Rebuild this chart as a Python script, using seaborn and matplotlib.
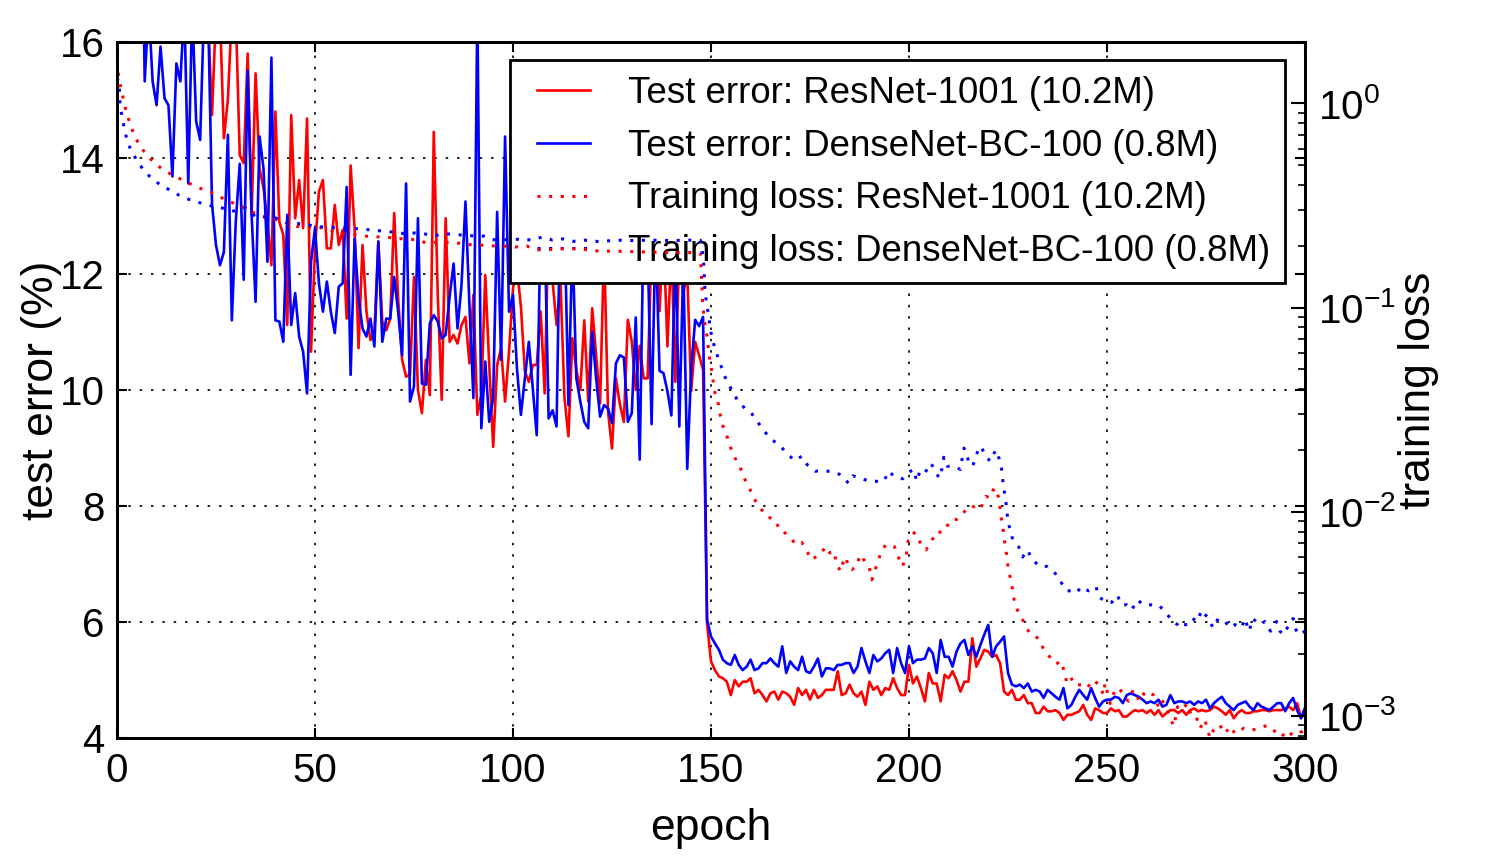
import numpy as np
import matplotlib
matplotlib.use('Agg')
import matplotlib.pyplot as plt
from matplotlib.patches import Rectangle
import seaborn as sns

# -----------------------------
# Test error (%) per epoch, epochs 1..300 (values > 16 run off the top)
# -----------------------------
resnet_err = [
    30, 27, 25, 24, 23, 22, 21, 20, 20, 19,
    19, 18.5, 18.5, 18, 18, 17.5, 17.5, 17.5, 17, 17,
    17, 20, 16.4, 14.74, 16.5, 16.5, 14.34, 15.0, 16.5, 16.5,
    14.05, 13.91, 15.8, 13.02, 15.46, 13.82, 13.48, 12.9, 12.15, 14.8,
    12.9, 12.67, 11.12, 14.74, 12.96, 13.62, 12.79, 14.68, 10.66, 12.44,
    13.42, 13.62, 12.44, 12.44, 13.19, 12.5, 12.76, 11.23, 13.87, 12.79,
    10.72, 12.5, 11.35, 10.86, 11.0, 12.56, 11.18, 11.03, 11.23, 13.05,
    11.58, 10.52, 10.23, 10.26, 11.95, 10.0, 9.6, 10.52, 9.91, 14.45,
    11.64, 9.83, 12.96, 10.83, 10.95, 10.8, 11.12, 11.26, 10.46, 11.64,
    9.57, 9.91, 11.98, 10.43, 9.02, 10.43, 10.72, 9.8, 10.66, 11.75,
    12.1, 11.44, 10.32, 10.14, 10.43, 10.43, 11.35, 9.94, 13.0, 11.87,
    11.12, 11.84, 9.86, 9.2, 10.89, 10.34, 10.0, 11.2, 9.8, 11.41,
    10.6, 9.77, 12.5, 9.63, 8.99, 10.2, 9.75, 9.45, 11.21, 10.83,
    10.0, 10.76, 10.2, 10.2, 12.5, 12.8, 11.36, 12.7, 10.75, 12.5,
    10.14, 12.4, 11.67, 12.0, 9.98, 10.83, 10.6, 10.35, 5.98, 5.32,
    5.17, 5.06, 5.03, 4.97, 4.74, 5.0, 4.89, 4.97, 4.97, 5.03,
    4.77, 4.83, 4.74, 4.63, 4.77, 4.8, 4.66, 4.8, 4.77, 4.71,
    4.57, 4.86, 4.74, 4.83, 4.66, 4.83, 4.69, 4.74, 4.83, 4.83,
    4.83, 5.15, 4.74, 4.77, 4.92, 4.77, 4.71, 4.8, 4.57, 4.97,
    4.83, 4.89, 4.74, 4.86, 4.83, 5.03, 4.86, 4.74, 4.74, 5.26,
    4.94, 5.06, 4.86, 4.63, 5.12, 4.94, 4.94, 4.63, 5.09, 5.03,
    5.15, 5.0, 4.8, 4.97, 4.97, 5.72, 5.23, 5.37, 5.52, 5.49,
    5.4, 5.43, 5.29, 4.8, 4.74, 4.83, 4.66, 4.66, 4.74, 4.6,
    4.6, 4.43, 4.43, 4.54, 4.46, 4.46, 4.48, 4.43, 4.31, 4.4,
    4.4, 4.43, 4.46, 4.57, 4.4, 4.31, 4.51, 4.48, 4.43, 4.43,
    4.51, 4.46, 4.48, 4.37, 4.37, 4.43, 4.48, 4.46, 4.48, 4.43,
    4.48, 4.4, 4.48, 4.37, 4.43, 4.48, 4.48, 4.43, 4.48, 4.4,
    4.48, 4.51, 4.46, 4.48, 4.46, 4.48, 4.54, 4.51, 4.46, 4.4,
    4.48, 4.34, 4.43, 4.48, 4.43, 4.43, 4.46, 4.46, 4.48, 4.48,
    4.46, 4.48, 4.48, 4.48, 4.51, 4.54, 4.48, 4.6, 4.34, 4.52,
]

densenet_err = [
    30, 27, 25, 23, 21, 20, 15.32, 16.6, 15.32, 14.91,
    15.92, 15.03, 14.91, 13.68, 15.63, 15.32, 16.6, 13.56, 16.6, 14.63,
    14.31, 16.6, 16.6, 13.2, 12.5, 12.15, 12.38, 14.4, 11.2, 12.9,
    13.9, 11.9, 15.5, 13.02, 11.52, 14.37, 13.82, 12.21, 15.73, 11.2,
    11.18, 10.83, 13.02, 11.12, 11.67, 10.92, 10.66, 9.94, 12.21, 12.79,
    11.84, 11.35, 11.87, 11.35, 10.98, 11.78, 11.84, 13.5, 10.26, 12.61,
    11.58, 11.06, 10.92, 11.23, 10.75, 12.56, 10.83, 11.23, 11.23, 11.95,
    11.35, 10.6, 13.56, 9.8, 10.06, 12.96, 10.11, 10.09, 11.15, 11.29,
    11.18, 10.89, 10.95, 11.61, 12.18, 11.06, 11.81, 13.25, 11.46, 9.86,
    16.6, 9.34, 10.49, 9.45, 9.86, 13.07, 10.52, 14.37, 11.35, 11.64,
    10.37, 9.57, 10.2, 10.83, 10.03, 9.22, 13.0, 12.8, 9.51, 9.65,
    9.37, 13.5, 13.0, 9.74, 12.6, 10.2, 9.8, 9.45, 9.34, 11.0,
    10.2, 9.54, 9.74, 9.68, 9.43, 10.46, 10.6, 10.56, 9.45, 9.6,
    11.25, 8.8, 13.0, 12.5, 9.41, 12.8, 10.33, 10.29, 9.98, 9.56,
    12.5, 9.37, 12.2, 8.64, 10.37, 11.21, 11.1, 11.26, 6.04, 5.75,
    5.63, 5.52, 5.35, 5.29, 5.26, 5.43, 5.26, 5.17, 5.23, 5.35,
    5.17, 5.2, 5.29, 5.29, 5.37, 5.29, 5.23, 5.58, 5.12, 5.32,
    5.23, 5.17, 5.4, 5.15, 5.12, 5.23, 5.37, 5.06, 5.2, 5.2,
    5.17, 5.26, 5.26, 5.29, 5.29, 5.12, 5.23, 5.55, 5.32, 5.12,
    5.43, 5.32, 5.37, 5.46, 5.52, 5.12, 5.55, 5.29, 5.12, 5.58,
    5.29, 5.35, 5.35, 5.37, 5.55, 5.46, 5.12, 5.69, 5.4, 5.4,
    5.23, 5.49, 5.63, 5.69, 5.43, 5.58, 5.4, 5.6, 5.78, 5.95,
    5.4, 5.58, 5.66, 5.75, 5.12, 4.92, 4.89, 4.92, 4.86, 4.94,
    4.8, 4.83, 4.8, 4.69, 4.83, 4.77, 4.71, 4.66, 4.86, 4.51,
    4.57, 4.71, 4.83, 4.74, 4.66, 4.86, 4.69, 4.54, 4.63, 4.66,
    4.66, 4.71, 4.69, 4.6, 4.74, 4.77, 4.74, 4.71, 4.66, 4.6,
    4.63, 4.6, 4.66, 4.54, 4.57, 4.74, 4.6, 4.63, 4.63, 4.6,
    4.63, 4.57, 4.63, 4.6, 4.66, 4.51, 4.6, 4.66, 4.71, 4.6,
    4.54, 4.48, 4.57, 4.6, 4.63, 4.54, 4.48, 4.6, 4.54, 4.51,
    4.48, 4.54, 4.6, 4.6, 4.46, 4.6, 4.69, 4.48, 4.34, 4.51,
]

# -----------------------------
# Training loss, (epoch, loss)
# -----------------------------
resnet_loss_pts = [
    (0, 1.61), (0.25, 1.43), (0.76, 1.25), (1.35, 1.11), (1.9, 0.98), (2.7, 0.864), (3.6, 0.765), (4.6, 0.681), (6.1, 0.608), (7.8, 0.55),
    (9.9, 0.502), (12.2, 0.466), (14.7, 0.439), (17.3, 0.415), (19.8, 0.392), (22.3, 0.375), (24.8, 0.361), (26.9, 0.341), (29.4, 0.325), (32.1, 0.309),
    (34.6, 0.291), (37.4, 0.278), (40.1, 0.270), (42.7, 0.260), (45.5, 0.250), (48.3, 0.247), (51.9, 0.246), (56.9, 0.230), (59.9, 0.228), (62.5, 0.224),
    (65.2, 0.222), (67.9, 0.222), (70.7, 0.217), (73.2, 0.218), (75.5, 0.214), (78.0, 0.208), (82.2, 0.209), (84.6, 0.208), (87.3, 0.206), (90.1, 0.202),
    (92.8, 0.202), (95.7, 0.200), (98.0, 0.200), (100.6, 0.198), (103.5, 0.200), (106.2, 0.192), (108.8, 0.192), (111.7, 0.194), (114.4, 0.194), (117.2, 0.194),
    (119.9, 0.190), (122.6, 0.189), (125.4, 0.189), (130, 0.188), (135, 0.187), (140, 0.186), (145, 0.186), (147.3, 0.185), (147.9, 0.105), (148.5, 0.081),
    (149.1, 0.071), (149.3, 0.0634), (149.7, 0.0556), (150.2, 0.0487), (150.6, 0.0427), (151.0, 0.0382), (151.9, 0.0335), (152.4, 0.0293), (153.1, 0.026), (154.1, 0.0232),
    (155.0, 0.0205), (156.1, 0.0183), (157.3, 0.0166), (158.4, 0.0146), (159.7, 0.0131), (160.7, 0.0117), (162.4, 0.0105), (163.9, 0.0095), (166.2, 0.00914), (167.4, 0.0081),
    (168.4, 0.008), (169.3, 0.00762), (170.4, 0.0073), (171.6, 0.0069), (172.9, 0.00708), (174.3, 0.0064), (175.2, 0.00582), (177.5, 0.00616), (179.0, 0.00676), (180.0, 0.00628),
    (181.1, 0.0064), (181.6, 0.00565), (182.7, 0.0051), (183.4, 0.0057), (184.1, 0.006), (184.7, 0.0053), (185.5, 0.0052), (186.8, 0.0054), (187.6, 0.00616), (188.6, 0.00582),
    (190.0, 0.0053), (190.6, 0.00464), (191.2, 0.0049), (191.8, 0.0055), (192.9, 0.00628), (194.1, 0.0069), (196.3, 0.00676), (197.3, 0.006), (198.4, 0.0054), (199.4, 0.0063),
    (199.8, 0.0072), (200.7, 0.0073), (201.3, 0.0079), (202.1, 0.0077), (203.0, 0.0069), (204.3, 0.0065), (205.7, 0.0072), (207.0, 0.008), (208.5, 0.0079), (209.3, 0.0083),
    (210.5, 0.0091), (212.2, 0.0092), (213.5, 0.0097), (214.6, 0.0104), (215.4, 0.0103), (216.9, 0.0108), (218.1, 0.0104), (219.4, 0.0119), (220.5, 0.0117), (221.5, 0.0131),
    (222.1, 0.0126), (222.8, 0.0115), (223.1, 0.0097), (223.7, 0.0085), (224.0, 0.0074), (224.5, 0.0065), (224.8, 0.0057), (225.3, 0.005), (225.9, 0.0045), (226.3, 0.0039),
    (227.0, 0.0034), (228.2, 0.0031), (229.7, 0.0027), (230.7, 0.0025), (232.7, 0.0024), (234.1, 0.0021), (236.0, 0.0019), (237.1, 0.0018), (238.6, 0.00185), (239.1, 0.00165),
    (239.8, 0.00147), (240.8, 0.00156), (241.7, 0.00142), (243.9, 0.00142), (245.0, 0.00137), (246.4, 0.0015), (248.1, 0.00142), (249.1, 0.00127), (249.5, 0.00145), (250.8, 0.00115),
    (252.0, 0.00134), (253.1, 0.00137), (254.1, 0.00127), (255.4, 0.00118), (256.6, 0.00134), (258.3, 0.00118), (259.6, 0.00132), (261.7, 0.00127), (263.0, 0.00111), (263.8, 0.0012),
    (264.9, 0.00111), (265.9, 0.00098), (266.9, 0.00089), (267.8, 0.00111), (268.8, 0.00107), (270.3, 0.00115), (271.4, 0.00099), (272.6, 0.00098), (273.5, 0.00087), (274.7, 0.00096),
    (276.0, 0.00078), (277.3, 0.00089), (278.5, 0.0009), (279.8, 0.00082), (281.1, 0.00089), (282.3, 0.00082), (284.5, 0.00087), (286.1, 0.00085), (288.7, 0.00087), (290.4, 0.0009),
    (291.6, 0.00087), (292.9, 0.00082), (294.1, 0.00079), (295.4, 0.00085), (297.0, 0.0008), (298.7, 0.00083), (300.0, 0.00085),
]

densenet_loss_pts = [
    (0, 1.34), (0.55, 1.25), (0.65, 1.11), (0.8, 0.97), (1.3, 0.857), (1.85, 0.754), (2.5, 0.666), (3.5, 0.59), (5.0, 0.527), (6.6, 0.475),
    (8.6, 0.432), (10.8, 0.401), (13.2, 0.378), (15.7, 0.355), (18.3, 0.338), (21.0, 0.326), (23.8, 0.315), (26.7, 0.307), (29.5, 0.297), (32.4, 0.308),
    (34.9, 0.28), (40.0, 0.275), (42.9, 0.26), (45.7, 0.258), (48.4, 0.254), (50.1, 0.25), (53.4, 0.247), (56.6, 0.247), (59.2, 0.244), (62.0, 0.243),
    (64.6, 0.239), (67.4, 0.237), (70.0, 0.234), (72.8, 0.23), (75.3, 0.232), (77.4, 0.23), (80.2, 0.225), (82.9, 0.23), (85.4, 0.228), (90.5, 0.224),
    (92.6, 0.224), (94.7, 0.215), (99.8, 0.215), (102.1, 0.217), (104.8, 0.214), (107.5, 0.222), (110.0, 0.214), (112.5, 0.217), (115.1, 0.211), (118.0, 0.214),
    (120.5, 0.211), (122.9, 0.211), (125.7, 0.214), (130, 0.213), (135, 0.214), (140, 0.213), (145, 0.214), (147.3, 0.214), (148.1, 0.175), (148.5, 0.118),
    (149.4, 0.0906), (150.2, 0.071), (151.8, 0.0567), (153.8, 0.0444), (155.2, 0.0396), (156.6, 0.0354), (158.6, 0.032), (160.3, 0.0302), (162.0, 0.0272), (163.6, 0.0246),
    (165.3, 0.0226), (167.4, 0.0211), (169.5, 0.019), (171.2, 0.0178), (172.9, 0.0187), (174.3, 0.017), (176.3, 0.0158), (178.2, 0.0159), (180.9, 0.0157), (183.0, 0.0151),
    (184.7, 0.0138), (185.8, 0.015), (187.8, 0.0146), (190.0, 0.0141), (191.8, 0.0141), (193.7, 0.0141), (194.8, 0.0158), (196.3, 0.0149), (198.4, 0.0145), (199.2, 0.0152),
    (200.4, 0.0158), (201.3, 0.0161), (201.9, 0.0141), (202.8, 0.0159), (204.0, 0.0155), (205.5, 0.0173), (206.4, 0.0162), (207.6, 0.0146), (208.4, 0.0164), (208.8, 0.0185),
    (209.7, 0.0167), (211.4, 0.0167), (213.0, 0.0161), (213.4, 0.0181), (213.9, 0.0205), (214.2, 0.0201), (215.0, 0.0178), (216.1, 0.0167), (216.9, 0.0188), (217.9, 0.0209),
    (218.4, 0.0205), (219.4, 0.0185), (220.6, 0.0177), (221.9, 0.0201), (222.8, 0.0181), (223.4, 0.0161), (223.7, 0.0141), (224.1, 0.0124), (224.5, 0.011), (224.8, 0.0097),
    (225.3, 0.0085), (226.0, 0.0075), (227.6, 0.0068), (228.7, 0.006), (229.9, 0.0065), (231.2, 0.0058), (233.1, 0.0054), (234.8, 0.0054), (236.6, 0.0051), (238.1, 0.0046),
    (239.8, 0.0041), (241.1, 0.0041), (242.2, 0.004), (243.6, 0.0043), (245.3, 0.0041), (247.2, 0.0043), (248.1, 0.0038), (250.1, 0.0036), (251.2, 0.0036), (252.6, 0.0039),
    (253.7, 0.0035), (255.0, 0.0035), (256.2, 0.0033), (257.7, 0.0037), (259.2, 0.0035), (260.7, 0.0035), (261.7, 0.0035), (263.0, 0.0035), (264.9, 0.0032), (266.6, 0.0029),
    (267.8, 0.0028), (268.4, 0.0027), (269.4, 0.0028), (270.5, 0.0028), (271.6, 0.003), (272.8, 0.0029), (273.9, 0.0033), (275.6, 0.003), (276.8, 0.0027), (278.1, 0.003),
    (279.8, 0.0029), (281.1, 0.0027), (282.3, 0.0028), (284.0, 0.0027), (284.8, 0.003), (285.9, 0.0026), (286.8, 0.003), (288.5, 0.0028), (289.9, 0.0029), (291.3, 0.0026),
    (292.8, 0.0029), (293.7, 0.0026), (294.5, 0.0025), (296.0, 0.0028), (297.0, 0.003), (297.5, 0.0027), (298.3, 0.0025), (300.0, 0.0026),
]

x_ticks = [0, 50, 100, 150, 200, 250, 300]
y_ticks = [4, 6, 8, 10, 12, 14, 16]
series_labels = [
    'Test error: ResNet-1001 (10.2M)',
    'Test error: DenseNet-BC-100 (0.8M)',
    'Training loss: ResNet-1001 (10.2M)',
    'Training loss: DenseNet-BC-100 (0.8M)',
]

# -----------------------------
# Style
# -----------------------------
plt.rcParams['font.family'] = ['Liberation Sans', 'DejaVu Sans']
plt.rcParams['mathtext.fontset'] = 'custom'
plt.rcParams['mathtext.rm'] = 'Liberation Sans'
plt.rcParams['mathtext.it'] = 'Liberation Sans:italic'
plt.rcParams['mathtext.bf'] = 'Liberation Sans:bold'

epochs_res = np.arange(1, len(resnet_err) + 1)
epochs_dense = np.arange(1, len(densenet_err) + 1)
res_loss_x, res_loss_y = zip(*resnet_loss_pts)
dense_loss_x, dense_loss_y = zip(*densenet_loss_pts)

dot_style = (0, (1, 2.8))

fig = plt.figure(figsize=(14.94, 8.6), dpi=100)
ax1 = fig.add_axes([0.0783, 0.1419, 0.7952, 0.8093])

# test error on the left axis
sns.lineplot(x=epochs_res, y=resnet_err, ax=ax1, color='red', linewidth=1.9,
             errorbar=None, label=series_labels[0], legend=False)
sns.lineplot(x=epochs_dense, y=densenet_err, ax=ax1, color='blue', linewidth=1.9,
             errorbar=None, label=series_labels[1], legend=False)
ax1.set_xlim(0, 300)
ax1.set_ylim(4, 16)
ax1.set_xticks(x_ticks)
ax1.set_yticks(y_ticks)
ax1.grid(True, color='black', linestyle=(0, (1.5, 5.3)), linewidth=1.2)

# training loss on the right (log) axis
ax2 = ax1.twinx()
ax2.set_yscale('log')
sns.lineplot(x=list(res_loss_x), y=list(res_loss_y), ax=ax2, color='red', linewidth=2.2,
             linestyle=dot_style, errorbar=None, sort=False, label=series_labels[2], legend=False)
sns.lineplot(x=list(dense_loss_x), y=list(dense_loss_y), ax=ax2, color='blue', linewidth=2.2,
             linestyle=dot_style, errorbar=None, sort=False, label=series_labels[3], legend=False)
ax2.set_ylim(7.8e-4, 2.0)
ax2.set_xlim(0, 300)

# ticks / spines
ax1.tick_params(axis='both', which='major', direction='in', length=7, width=1.5,
                labelsize=29, top=True, right=True)
ax1.tick_params(axis='y', pad=9)
ax1.tick_params(axis='x', pad=10)
ax2.tick_params(axis='y', which='major', direction='in', length=10, width=1.5,
                labelsize=29, pad=9)
ax2.tick_params(axis='y', which='minor', direction='in', length=5, width=1.2)
for ax in (ax1, ax2):
    for s in ax.spines.values():
        s.set_linewidth(2.0)

ax1.set_xlabel('epoch', fontsize=32, labelpad=13)
ax1.set_ylabel('test error (%)', fontsize=32, labelpad=-1.5)
ax2.set_ylabel('training loss', fontsize=32, labelpad=2)

# legend sits on the left axis (white box hides the test error lines),
# the loss curves of the twin axis are drawn over it
ax1.add_patch(Rectangle((0.3308, 0.6537), 0.6524, 0.3204, transform=ax1.transAxes,
                        facecolor='white', edgecolor='black', linewidth=2.0,
                        zorder=4, clip_on=False))
handles = ax1.get_lines()[:2] + ax2.get_lines()[:2]
leg = ax1.legend(handles, series_labels, loc='upper left', bbox_to_anchor=(0.3535, 0.9512),
                 borderaxespad=0, borderpad=0, fontsize=26.4, frameon=False,
                 handlelength=1.45, handletextpad=1.04, labelspacing=0.485)

fig.savefig('out.png', dpi=100)
print("saved out.png")
